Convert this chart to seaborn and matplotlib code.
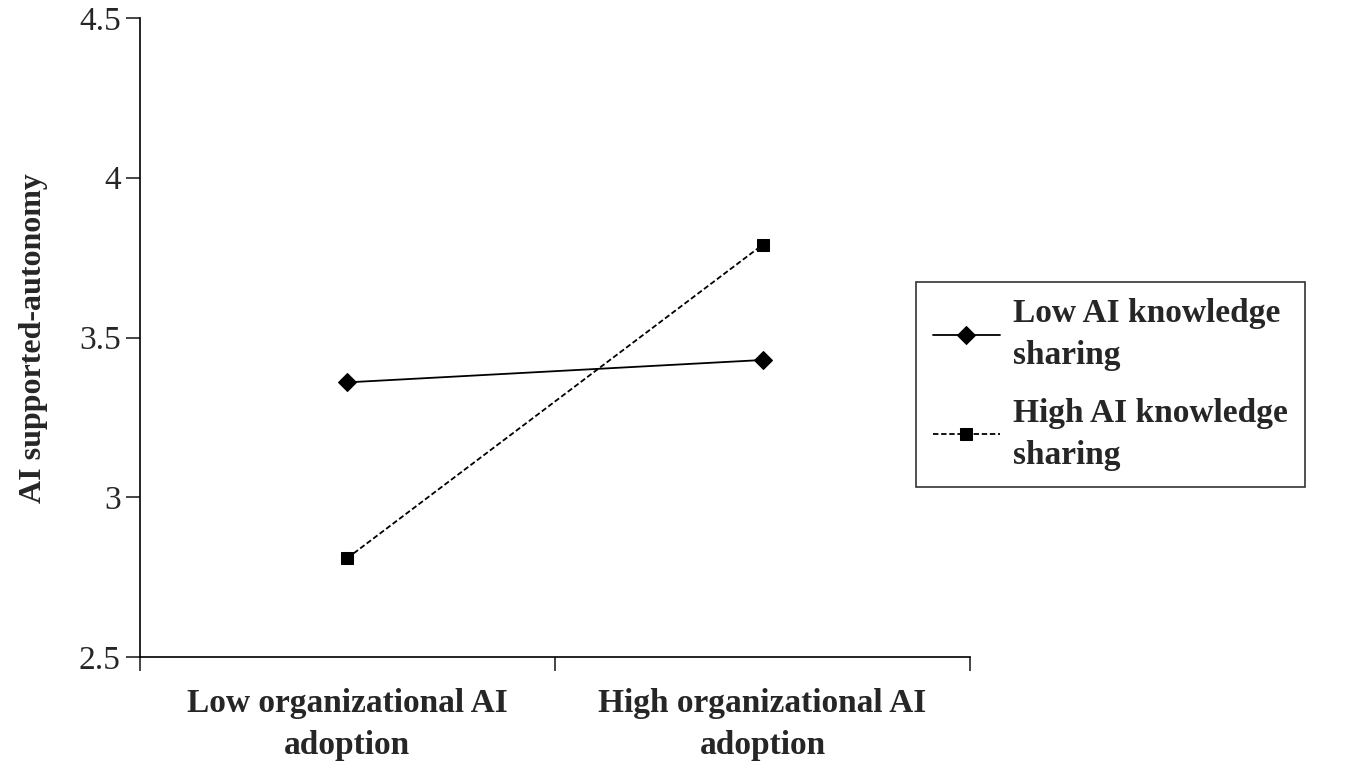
import pandas as pd
import matplotlib.pyplot as plt
import seaborn as sns

# data
conditions = ["Low organizational AI\nadoption", "High organizational AI\nadoption"]
low_sharing = [3.36, 3.43]
high_sharing = [2.81, 3.79]
series_names = ["Low AI knowledge\nsharing", "High AI knowledge\nsharing"]
y_ticks = [2.5, 3, 3.5, 4, 4.5]

data = pd.DataFrame({
    "x": [0, 1, 0, 1],
    "y": low_sharing + high_sharing,
    "series": [series_names[0]] * 2 + [series_names[1]] * 2,
})

sns.set_style("ticks")
plt.rcParams["font.family"] = ["Liberation Serif", "DejaVu Serif"]

fig = plt.figure(figsize=(13.55, 7.77), dpi=100)
ax = fig.add_axes([0.103, 0.154, 0.613, 0.823])

sns.lineplot(data=data, x="x", y="y", hue="series", style="series",
             palette=["black", "black"], markers={series_names[0]: "D", series_names[1]: "s"},
             dashes={series_names[0]: "", series_names[1]: (3, 1.5)},
             markersize=9, linewidth=1.3, ax=ax, legend=True)
for line in ax.lines:
    line.set_markeredgecolor("black")
    line.set_markerfacecolor("black")

ax.set_xlim(-0.5, 1.5)
ax.set_ylim(2.5, 4.5)
ax.set_yticks(y_ticks)
ax.set_yticklabels(["2.5", "3", "3.5", "4", "4.5"], fontsize=24)
ax.set_xticks([-0.5, 0.5, 1.5])
ax.set_xticklabels([])
ax.set_xticks([0, 1], minor=True)
ax.set_xticklabels(conditions, minor=True, fontsize=24, fontweight="bold", linespacing=1.45)
ax.tick_params(axis="x", which="minor", length=0, pad=22)
ax.tick_params(axis="both", which="major", length=10, width=1.2, direction="out")
ax.set_xlabel("")
ax.set_ylabel("AI supported-autonomy", fontsize=23, fontweight="bold", labelpad=22)
for s in ["top", "right"]:
    ax.spines[s].set_visible(False)
for s in ["left", "bottom"]:
    ax.spines[s].set_linewidth(1.2)
    ax.spines[s].set_color("black")

handles, labels = ax.get_legend_handles_labels()
ax.get_legend().remove()
leg = fig.legend(handles, labels, loc="upper left", bbox_to_anchor=(0.664, 0.659),
                 prop={"size": 24, "weight": "bold"}, frameon=True, fancybox=False,
                 edgecolor="black", handlelength=2.0, handletextpad=0.4,
                 labelspacing=0.8, borderpad=0.5)
for t in leg.get_texts():
    t.set_linespacing(1.45)
leg.get_frame().set_linewidth(1.2)

fig.savefig("out.png", dpi=100)
